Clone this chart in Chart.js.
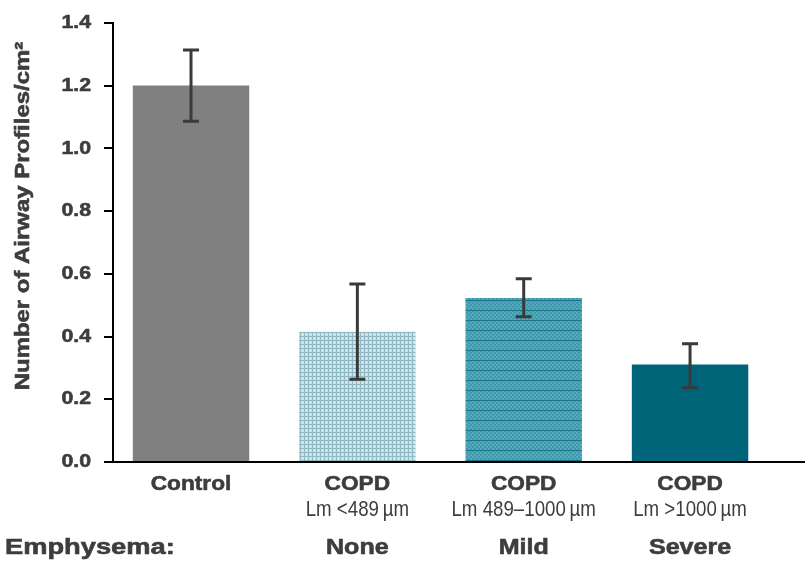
<!DOCTYPE html>
<html>
<head>
<meta charset="utf-8">
<script src="https://cdn.jsdelivr.net/npm/chart.js@4.4.1/dist/chart.umd.min.js"></script>
<style>
  html, body { margin: 0; padding: 0; background: #fff; }
  #wrap { width: 805px; height: 561px; position: relative; }
</style>
</head>
<body>
<div id="wrap"><canvas id="c" width="805" height="561"></canvas></div>
<script>
// ---- data ----
const groupLabels = ['Control', 'COPD', 'COPD', 'COPD'];
const subLabels = ['', 'Lm <489\u2009\u00b5m', 'Lm 489\u20131000\u2009\u00b5m', 'Lm >1000\u2009\u00b5m'];
const emphysemaLabels = ['', 'None', 'Mild', 'Severe'];
const emphysemaTitle = 'Emphysema:';
const means = [1.20, 0.415, 0.523, 0.311];
const errUpper = [1.313, 0.567, 0.584, 0.377];
const errLower = [1.086, 0.264, 0.463, 0.237];
const yTicks = [0, 0.2, 0.4, 0.6, 0.8, 1.0, 1.2, 1.4];
const yTitle = 'Number of Airway Profiles/cm\u00b2';

const textColor = '#3d3d3d';
const SANS = '"Liberation Sans", Arial, sans-serif';

function makePattern(w, h, draw) {
  const c = document.createElement('canvas');
  c.width = w; c.height = h;
  const g = c.getContext('2d');
  draw(g);
  return document.getElementById('c').getContext('2d').createPattern(c, 'repeat');
}
const lightPattern = makePattern(4, 4, g => {
  g.fillStyle = '#c9e0e6'; g.fillRect(0, 0, 4, 4);
  g.fillStyle = '#8dbac5'; g.fillRect(0, 0, 4, 1); g.fillRect(0, 0, 1, 4);
  g.fillStyle = '#e6f1f3'; g.fillRect(2, 2, 1, 1);
});
const midPattern = makePattern(4, 20, g => {
  for (let y = 0; y < 20; y += 2) {
    for (let x = 0; x < 4; x += 2) {
      g.fillStyle = ((x + y) / 2) % 2 === 0 ? '#58aabb' : '#3e98ac';
      g.fillRect(x, y, 2, 2);
    }
  }
  g.fillStyle = '#16768c';
  g.fillRect(0, 0, 4, 1);
  g.fillRect(0, 10, 4, 1);
});
const barColors = ['#808080', lightPattern, midPattern, '#006479'];

function drawText(ctx, text, x, y, font, sx, align, heavy) {
  ctx.save();
  ctx.font = font;
  ctx.textBaseline = 'middle';
  ctx.textAlign = align || 'center';
  ctx.translate(x, y);
  ctx.scale(sx, 1);
  ctx.fillText(text, 0, 0);
  if (heavy) {
    ctx.strokeStyle = ctx.fillStyle;
    ctx.lineWidth = 0.6;
    ctx.strokeText(text, 0, 0);
  }
  ctx.restore();
}

const labelPlugin = {
  id: 'labels',
  afterDatasetsDraw(chart) {
    const ctx = chart.ctx;
    const xs = chart.scales.x, ys = chart.scales.y;
    ctx.save();
    ctx.strokeStyle = '#3a3a3a';
    ctx.lineWidth = 3;
    means.forEach((m, i) => {
      const x = xs.getPixelForValue(i);
      const yt = ys.getPixelForValue(errUpper[i]);
      const yb = ys.getPixelForValue(errLower[i]);
      ctx.beginPath();
      ctx.moveTo(x, yt); ctx.lineTo(x, yb);
      ctx.moveTo(x - 8, yt); ctx.lineTo(x + 8, yt);
      ctx.moveTo(x - 8, yb); ctx.lineTo(x + 8, yb);
      ctx.stroke();
    });
    ctx.restore();
  },
  afterDraw(chart) {
    const ctx = chart.ctx;
    const xs = chart.scales.x, ys = chart.scales.y;
    ctx.save();
    ctx.fillStyle = textColor;
    yTicks.forEach(v => {
      drawText(ctx, v.toFixed(1), 91, ys.getPixelForValue(v), 'bold 19px ' + SANS, 1.12, 'right', true);
    });
    groupLabels.forEach((t, i) => {
      const x = xs.getPixelForValue(i);
      drawText(ctx, t, x, 484, 'bold 21px ' + SANS, 1.08, 'center', true);
      drawText(ctx, subLabels[i], x, 510, '22px ' + SANS, 0.85, 'center', false);
      drawText(ctx, emphysemaLabels[i], x, 548, 'bold 22px ' + SANS, 1.14, 'center', true);
    });
    drawText(ctx, emphysemaTitle, 5, 548, 'bold 22px ' + SANS, 1.24, 'left', true);
    ctx.save();
    ctx.translate(23, 216);
    ctx.rotate(-Math.PI / 2);
    drawText(ctx, yTitle, 0, 0, 'bold 21px ' + SANS, 1.14, 'center', true);
    ctx.restore();
    ctx.restore();
  }
};

new Chart(document.getElementById('c'), {
  type: 'bar',
  data: {
    datasets: [{
      data: means.map((v, i) => ({ x: i, y: v })),
      backgroundColor: barColors,
      borderWidth: 0,
      barPercentage: 0.7,
      categoryPercentage: 1.0
    }]
  },
  options: {
    responsive: false,
    animation: false,
    devicePixelRatio: 1,
    layout: { padding: { left: 0, top: 21, right: 0, bottom: 0 } },
    plugins: { legend: { display: false }, tooltip: { enabled: false } },
    scales: {
      x: {
        type: 'linear',
        offset: false,
        min: -0.469,
        max: 3.691,
        grid: { display: false, offset: false },
        border: { display: true, color: '#000', width: 2 },
        ticks: { display: false },
        afterBuildTicks: s => { s.ticks = groupLabels.map((_, i) => ({ value: i })); },
        afterFit: s => { s.height = 99; }
      },
      y: {
        min: 0,
        max: 1.4,
        grid: { display: true, drawOnChartArea: false, drawTicks: true, tickLength: 9, color: '#000', lineWidth: 2 },
        border: { display: true, color: '#000', width: 2 },
        afterBuildTicks: s => { s.ticks = yTicks.map(v => ({ value: v })); },
        ticks: {
          color: 'rgba(0,0,0,0)',
          padding: 12,
          font: { family: SANS, size: 18, weight: 'bold' },
          callback: v => Number(v).toFixed(1)
        },
        afterFit: s => { s.width = 113; }
      }
    }
  },
  plugins: [labelPlugin]
});
</script>
</body>
</html>
